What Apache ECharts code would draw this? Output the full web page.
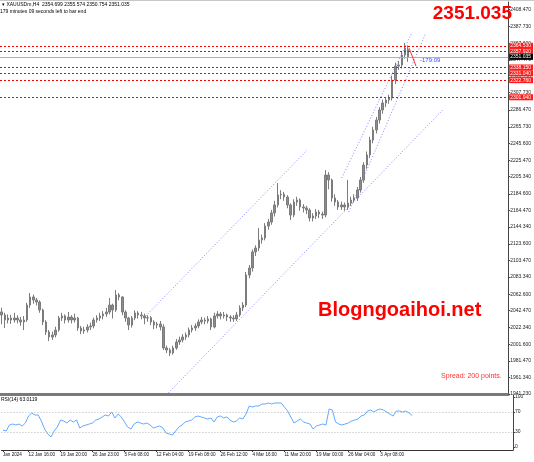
<!DOCTYPE html>
<html><head><meta charset="utf-8">
<script src="https://cdn.jsdelivr.net/npm/echarts@6/dist/echarts.min.js"></script>
<style>html,body{margin:0;padding:0;background:#fff}#c{width:534px;height:462px}</style>
</head><body><div id="c"></div>
<script>
// ---- data ----
const barOpen = [
2041.0,2037.3,2031.2,2033.6,2031.2,2033.6,2031.2,2028.8,2031.2,2049.4,
2059.2,2055.5,2053.1,2043.4,2028.8,2016.6,2010.5,2013.0,2019.0,2033.6,
2036.1,2031.2,2034.8,2031.2,2033.6,2021.5,2017.8,2019.0,2022.7,2023.9,
2031.2,2033.6,2036.1,2038.5,2040.9,2049.4,2043.4,2061.6,2059.2,2040.9,
2033.6,2025.1,2033.6,2039.7,2037.3,2036.1,2033.6,2034.0,2028.8,2025.1,
2026.3,2022.7,1997.2,1994.7,1991.1,1997.2,2004.4,2006.9,2010.5,2013.0,
2019.0,2021.5,2023.9,2028.8,2031.2,2030.0,2032.4,2022.7,2036.1,2038.5,
2036.1,2037.3,2034.8,2033.6,2032.5,2037.3,2045.8,2049.4,2085.9,2094.4,
2113.9,2118.7,2128.5,2130.9,2145.4,2150.3,2161.3,2171.0,2183.2,2184.0,
2180.7,2171.0,2158.8,2174.6,2177.1,2168.6,2167.4,2164.9,2155.2,2157.6,
2162.5,2160.0,2158.8,2207.5,2201.4,2179.5,2174.6,2168.6,2171.0,2168.6,
2173.4,2177.1,2179.5,2189.2,2201.4,2219.6,2231.8,2250.0,2262.2,2274.3,
2286.5,2295.0,2298.6,2301.0,2322.9,2339.9,2341.2,2353.3,2360.0];
const barClose = [
2037.3,2031.2,2033.6,2031.2,2033.6,2031.2,2028.8,2031.2,2049.4,2059.2,
2055.5,2053.1,2043.4,2028.8,2016.6,2010.5,2013.0,2019.0,2033.6,2036.1,
2031.2,2034.8,2031.2,2033.6,2021.5,2017.8,2019.0,2022.7,2023.9,2031.2,
2033.6,2036.1,2038.5,2040.9,2049.4,2043.4,2061.6,2059.2,2040.9,2033.6,
2025.1,2033.6,2039.7,2037.3,2036.1,2033.6,2034.0,2028.8,2025.1,2026.3,
2022.7,1997.2,1994.7,1991.1,1997.2,2004.4,2006.9,2010.5,2013.0,2019.0,
2021.5,2023.9,2028.8,2031.2,2030.0,2032.4,2022.7,2036.1,2038.5,2036.1,
2037.3,2034.8,2033.6,2032.5,2037.3,2045.8,2049.4,2085.9,2094.4,2113.9,
2118.7,2128.5,2130.9,2145.4,2150.3,2161.3,2171.0,2183.2,2184.0,2180.7,
2171.0,2158.8,2174.6,2177.1,2168.6,2167.4,2164.9,2155.2,2157.6,2162.5,
2160.0,2158.8,2207.5,2201.4,2179.5,2174.6,2168.6,2171.0,2168.6,2173.4,
2177.1,2179.5,2189.2,2201.4,2219.6,2231.8,2250.0,2262.2,2274.3,2286.5,
2295.0,2298.6,2301.0,2322.9,2339.9,2341.2,2353.3,2361.8,2351.035];
const barLow = [
2026.0,2021.5,2027.0,2026.5,2028.0,2027.0,2024.0,2019.0,2029.0,2046.0,
2051.0,2049.0,2040.0,2025.0,2013.0,2005.7,2007.0,2010.0,2017.0,2030.0,
2027.0,2028.0,2027.0,2028.0,2018.0,2014.0,2014.5,2016.0,2019.0,2021.0,
2028.0,2030.0,2032.0,2035.0,2038.0,2033.0,2041.0,2055.0,2037.0,2029.0,
2019.0,2022.0,2031.0,2033.0,2032.0,2026.0,2029.0,2025.0,2020.0,2021.0,
2018.5,1994.7,1991.0,1987.4,1989.0,1995.0,2001.0,2004.0,2007.0,2010.0,
2016.0,2018.0,2021.0,2026.0,2026.0,2027.0,2019.0,2021.0,2033.0,2032.0,
2033.0,2030.0,2029.0,2029.0,2030.0,2035.0,2042.0,2047.0,2082.0,2090.0,
2109.0,2115.0,2124.0,2128.0,2141.0,2147.0,2157.0,2168.0,2178.0,2176.0,
2167.0,2152.8,2156.0,2170.0,2164.0,2162.0,2160.0,2151.0,2151.0,2154.0,
2155.0,2154.0,2156.0,2190.0,2175.0,2170.0,2165.0,2165.0,2164.0,2165.0,
2170.0,2174.0,2176.0,2186.0,2198.0,2215.0,2228.0,2246.0,2258.0,2270.0,
2282.0,2290.0,2294.0,2298.0,2318.0,2335.0,2337.0,2349.0,2345.0];
const barHigh = [
2046.0,2040.0,2038.0,2037.5,2040.0,2037.0,2035.0,2036.0,2052.0,2064.0,
2062.0,2058.0,2055.0,2045.0,2031.0,2019.0,2017.0,2023.0,2036.0,2040.0,
2038.0,2041.0,2037.0,2039.0,2035.0,2024.0,2023.0,2026.0,2028.0,2034.0,
2037.0,2040.0,2042.0,2046.0,2057.9,2051.0,2067.7,2064.0,2060.0,2043.0,
2035.0,2036.0,2043.0,2042.0,2041.0,2039.0,2037.0,2036.0,2031.0,2029.0,
2030.0,2026.0,2000.0,1997.0,2000.0,2008.0,2011.0,2014.0,2016.0,2022.0,
2025.0,2027.0,2032.0,2035.0,2034.0,2036.0,2034.0,2040.0,2042.0,2041.0,
2041.0,2039.0,2037.0,2037.0,2041.0,2049.0,2053.0,2089.6,2098.0,2117.0,
2122.0,2143.0,2135.0,2149.0,2154.0,2165.0,2176.0,2197.7,2189.0,2187.0,
2183.0,2173.0,2178.0,2181.0,2179.0,2172.0,2170.0,2167.0,2161.0,2166.0,
2165.0,2163.0,2213.5,2211.0,2203.0,2184.0,2177.0,2175.0,2174.0,2201.4,
2181.0,2184.0,2193.0,2205.0,2223.0,2236.0,2254.0,2266.0,2278.0,2290.0,
2299.0,2302.0,2305.0,2328.0,2344.0,2346.0,2357.0,2367.9,2365.0];
const rsiValues = [
34,32,44,46,44,46,42,48,62,68,
64,64,52,36,26,20,32,40,54,52,
48,54,50,54,38,42,44,46,48,54,
56,60,64,62,70,58,66,60,50,40,
36,46,50,48,46,48,44,38,40,42,
38,28,26,24,32,40,44,50,52,54,
60,62,60,58,56,58,50,60,62,58,
60,54,50,52,58,56,66,82,80,82,
82,86,86,88,86,88,88,88,80,72,
60,48,52,56,50,48,46,36,42,44,
46,44,76,74,50,46,44,46,48,52,
54,56,62,64,72,74,70,74,76,74,
70,66,62,72,72,70,72,68,63.0119];
const priceTicks = [1941.230,1961.340,1981.470,2001.600,2022.340,2042.470,2062.600,2083.340,2103.470,2123.600,
  2144.340,2164.470,2184.600,2205.340,2225.470,2245.600,2265.730,2286.470,2307.730,2326.730,2347.470,2367.600,2387.730,2408.470];
const rsiTicks = [0, 30, 70, 100];
const rsiLevels = [30, 70];
const timeLabels = ['Jan 2024','12 Jan 16:00','19 Jan 20:00','26 Jan 23:00','5 Feb 08:00','12 Feb 04:00','19 Feb 08:00',
  '26 Feb 12:00','4 Mar 16:00','11 Mar 20:00','19 Mar 00:00','26 Mar 04:00','3 Apr 08:00'];
const timeLabelSlots = [0, 8, 18, 28, 38, 48, 58, 68, 78, 88, 98, 108, 118];
const levelLines = [2364.530, 2357.920, 2338.150, 2331.040, 2322.760, 2301.940];
const currentPrice = 2351.035;
const trendLines = [
  [[52.5, 1942.5], [138.9, 2286.5]],
  [[45.4, 2036.1], [96.2, 2237.8]],
  [[107.1, 2203.8], [129.3, 2381.3]],
  [[109.3, 2162.5], [133.6, 2380.1]]
];
const arrowLine = [[128.3, 2361.8], [130.5, 2339.9]];
const headerLine1 = '\u25BE XAUUSDm,H4  2354.699 2355.574 2350.754 2351.035';
const headerLine2 = '179 minutes 09 seconds left to bar end';
const rsiTitle = 'RSI(14) 63.0119';
const totalSlots = 160;

// ---- build ----
const slots = [];
for (let i = 0; i < totalSlots; i++) slots.push(String(i));
const candles = barOpen.map((o, i) => [o, barClose[i], barLow[i], barHigh[i]]);
const isLabelSlot = (idx) => timeLabelSlots.indexOf(idx) >= 0;
const FONT = 'Liberation Sans';

const trendSeries = trendLines.map(pts => ({
  type: 'line', xAxisIndex: 2, yAxisIndex: 0, data: pts, showSymbol: false, symbol: 'none',
  silent: true, animation: false, z: 3,
  lineStyle: { color: '#8484ff', width: 1, type: [1, 2] }
}));

const levelLabel = (bg) => ({ show: true, position: 'end', distance: 1, formatter: p => p.value.toFixed(3),
  color: '#fff', backgroundColor: bg, fontSize: 5, padding: [1, 2, 0, 1], fontFamily: FONT });

const chart = echarts.init(document.getElementById('c'), null, { renderer: 'canvas' });
chart.setOption({
  animation: false,
  backgroundColor: '#ffffff',
  title: {
    text: String(currentPrice.toFixed(3)), right: 22, top: 4, padding: 0,
    textStyle: { color: '#ff0000', fontSize: 19, fontWeight: 'bold', fontFamily: FONT }
  },
  grid: [
    { left: 0, right: 21, top: 2, height: 392 },
    { left: 0, right: 21, top: 395, height: 55 }
  ],
  xAxis: [
    { type: 'category', gridIndex: 0, data: slots, boundaryGap: true,
      axisLine: { show: true, onZero: false, lineStyle: { color: '#7a7a7a', width: 3 } },
      axisTick: { show: false }, axisLabel: { show: false }, splitLine: { show: false } },
    { type: 'category', gridIndex: 1, data: slots, boundaryGap: true,
      axisLine: { show: true, onZero: false, lineStyle: { color: '#333', width: 1 } },
      axisTick: { show: true, interval: isLabelSlot, alignWithLabel: true, length: 2, lineStyle: { color: '#333' } },
      axisLabel: { show: true, interval: isLabelSlot, align: 'left', margin: 2,
        formatter: (v) => { const k = timeLabelSlots.indexOf(Number(v)); return k >= 0 ? timeLabels[k] : ''; },
        fontSize: 4.6, color: '#111', fontFamily: FONT },
      splitLine: { show: false } },
    { type: 'value', gridIndex: 0, min: -0.5, max: totalSlots - 0.5, show: false }
  ],
  yAxis: [
    { type: 'value', gridIndex: 0, position: 'right', min: 1941.23, max: 2417.76, scale: true,
      axisLine: { show: true, onZero: false, lineStyle: { color: '#444', width: 1 } },
      axisTick: { show: true, customValues: priceTicks, length: 2, lineStyle: { color: '#444' } },
      axisLabel: { show: true, customValues: priceTicks, formatter: v => v.toFixed(3), margin: 2,
        fontSize: 5, color: '#222', fontFamily: FONT },
      splitLine: { show: false } },
    { type: 'value', gridIndex: 1, position: 'right', min: -6, max: 104,
      axisLine: { show: true, onZero: false, lineStyle: { color: '#444', width: 1 } },
      axisTick: { show: true, customValues: rsiTicks, length: 2, lineStyle: { color: '#444' } },
      axisLabel: { show: true, customValues: rsiTicks, margin: 2, fontSize: 5, color: '#222', fontFamily: FONT },
      splitLine: { show: false } }
  ],
  series: [
    { type: 'candlestick', xAxisIndex: 0, yAxisIndex: 0, data: candles, barWidth: 2, z: 4,
      itemStyle: { color: '#8c8c8c', color0: '#8c8c8c', borderColor: '#7c7c7c', borderColor0: '#7c7c7c', borderWidth: 1 } },
    { type: 'line', name: 'levels', xAxisIndex: 2, yAxisIndex: 0, data: [], silent: true, z: 6,
      itemStyle: { color: '#ff0000' }, lineStyle: { color: '#ff0000' },
      markLine: {
        symbol: 'none', silent: true, animation: false, precision: 3,
        lineStyle: { color: '#ff0000', width: 1, type: [2, 2], opacity: 1 },
        data: levelLines.map(v => ({ yAxis: v, lineStyle: { color: '#ff0000', width: 1, type: [2, 2] }, label: levelLabel('#ff1a1a') }))
      } },
    { type: 'line', name: 'bid', xAxisIndex: 2, yAxisIndex: 0, data: [], silent: true, z: 5,
      itemStyle: { color: '#b0b0b0' }, lineStyle: { color: '#b0b0b0' },
      markLine: {
        symbol: 'none', silent: true, animation: false, precision: 3,
        lineStyle: { color: '#b0b0b0', width: 1, type: 'solid' },
        data: [{ yAxis: currentPrice, label: levelLabel('#000000') }]
      } },
    ...trendSeries,
    { type: 'line', xAxisIndex: 2, yAxisIndex: 0, data: arrowLine, showSymbol: false, symbol: 'none', silent: true,
      lineStyle: { color: '#ff3030', width: 1 }, z: 5 },
    { type: 'line', xAxisIndex: 1, yAxisIndex: 1, data: rsiValues, showSymbol: false, symbol: 'none', silent: true,
      lineStyle: { color: '#62aaff', width: 1 },
      markLine: { symbol: 'none', silent: true, animation: false, label: { show: false },
        lineStyle: { color: '#b8b8b8', width: 1, type: [1, 2] },
        data: rsiLevels.map(v => ({ yAxis: v })) } }
  ],
  graphic: [
    { type: 'rect', left: 0, top: 0, shape: { width: 534, height: 1 }, style: { fill: '#c8c8c8' }, silent: true },
    { type: 'text', left: 2, top: 2, style: { text: headerLine1, fill: '#000', fontSize: 5, fontFamily: FONT } },
    { type: 'text', left: 0, top: 9, style: { text: headerLine2, fill: '#000', fontSize: 5, fontFamily: FONT } },
    { type: 'text', left: 1, top: 397, style: { text: rsiTitle, fill: '#000', fontSize: 5, fontFamily: FONT } },
    { type: 'text', left: 318, top: 300, style: { text: 'Blogngoaihoi.net', fill: '#ff0000', fontSize: 20, fontWeight: 'bold', fontFamily: FONT } },
    { type: 'text', left: 441, top: 373, style: { text: 'Spread: 200 points.', fill: '#ff3030', fontSize: 7, fontFamily: FONT } },
    { type: 'text', left: 420, top: 57, style: { text: '-179:09', fill: '#3a50ff', fontSize: 6, fontFamily: FONT } }
  ]
});
</script></body></html>
